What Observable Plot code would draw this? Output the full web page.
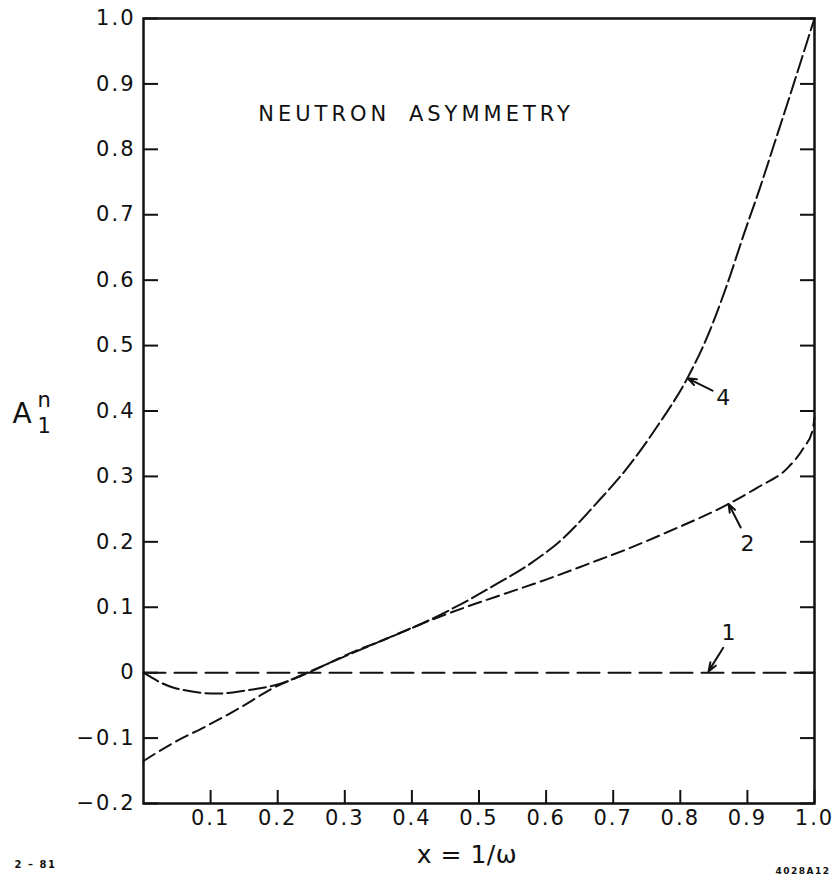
<!DOCTYPE html>
<html><head><meta charset="utf-8">
<script src="https://cdn.jsdelivr.net/npm/d3@7"></script>
<script src="https://cdn.jsdelivr.net/npm/@observablehq/plot@0.6"></script>
<style>
body{margin:0;background:#fff}
svg{display:block}
g[aria-label="y-axis tick label"] text, g[aria-label="x-axis tick label"] text {letter-spacing:2px}
text[aria-label="title"] {letter-spacing:4px; word-spacing:8px}
text[aria-label="xlabel"] {letter-spacing:0.5px}
text[aria-label="footer"] {letter-spacing:1.5px; font-weight:bold}
</style>
</head><body><div id="chart"></div>
<script>
// Curve 1: zero line
const curve1X = [0, 1];
const curve1Y = [0, 0];
// Curve 2
const curve2X = [0, 0.045, 0.095, 0.145, 0.194, 0.244, 0.318, 0.353, 0.408, 0.477, 0.551, 0.602, 0.662, 0.721, 0.781, 0.872, 0.915, 0.96, 0.984, 0.997, 1.0];
const curve2Y = [-0.135, -0.107, -0.081, -0.053, -0.023, -0.001, 0.034, 0.048, 0.072, 0.099, 0.125, 0.143, 0.166, 0.189, 0.215, 0.258, 0.283, 0.313, 0.344, 0.37, 0.39];
// Curve 4
const curve4X = [0, 0.045, 0.11, 0.16, 0.204, 0.244, 0.30, 0.353, 0.402, 0.468, 0.527, 0.577, 0.626, 0.676, 0.721, 0.766, 0.811, 0.840, 0.870, 0.894, 0.92, 0.939, 0.969, 0.99, 1.0];
const curve4Y = [0, -0.023, -0.032, -0.026, -0.017, 0, 0.025, 0.048, 0.069, 0.102, 0.136, 0.167, 0.206, 0.26, 0.313, 0.377, 0.451, 0.513, 0.594, 0.668, 0.745, 0.805, 0.900, 0.968, 1.0];

const yTicks = [-0.2, -0.1, 0, 0.1, 0.2, 0.3, 0.4, 0.5, 0.6, 0.7, 0.8, 0.9, 1.0];
const yTickLabels = ["\u22120.2", "\u22120.1", "0", "0.1", "0.2", "0.3", "0.4", "0.5", "0.6", "0.7", "0.8", "0.9", "1.0"];
const xTicks = [0.1, 0.2, 0.3, 0.4, 0.5, 0.6, 0.7, 0.8, 0.9, 1.0];
const xTickLabels = ["0.1", "0.2", "0.3", "0.4", "0.5", "0.6", "0.7", "0.8", "0.9", "1.0"];

// Curve labels and arrows (data coordinates)
const curveNames = ["1", "2", "4"];
const nameX = [0.872, 0.900, 0.864];
const nameY = [0.061, 0.197, 0.420];
const arrowTailX = [0.864, 0.890, 0.848];
const arrowTailY = [0.038, 0.222, 0.431];
const arrowTipX = [0.842, 0.872, 0.811];
const arrowTipY = [0.002, 0.258, 0.450];

const titleText = "NEUTRON ASYMMETRY";
const titleX = 0.171, titleY = 0.853;
const xLabelText = "x = 1/\u03c9";
const footLeft = "2 \u2013 81";
const footRight = "4028A12";

const toPts = (xs, ys) => xs.map((x, i) => ({x, y: ys[i]}));
const c1 = toPts(curve1X, curve1Y);
const c2 = toPts(curve2X, curve2Y);
const c4 = toPts(curve4X, curve4Y);
const idx = curveNames.map((_, i) => i);

const ink = "#111";
const plot = Plot.plot({
  width: 833, height: 881,
  marginLeft: 143, marginRight: 19, marginTop: 18, marginBottom: 78,
  style: {fontFamily: "DejaVu Sans", fontSize: "21px", background: "#fff", color: ink},
  x: {domain: [0, 1]},
  y: {domain: [-0.2, 1]},
  marks: [
    Plot.line(c1, {x: "x", y: "y", stroke: ink, strokeWidth: 2, strokeDasharray: "22,9"}),
    Plot.line(c2, {x: "x", y: "y", stroke: ink, strokeWidth: 2, strokeDasharray: "13,6", curve: "monotone-x"}),
    Plot.line(c4, {x: "x", y: "y", stroke: ink, strokeWidth: 2, strokeDasharray: "17,5", curve: "monotone-x"}),
    Plot.frame({stroke: ink, strokeWidth: 2.5}),
    Plot.axisY(yTicks, {anchor: "left", tickSize: -15, tickPadding: 23, strokeWidth: 2, fontSize: 21, label: null,
      tickFormat: d => yTickLabels[yTicks.indexOf(d)]}),
    Plot.axisY(yTicks, {anchor: "right", tickSize: -15, strokeWidth: 2, label: null, tickFormat: () => ""}),
    Plot.axisX(xTicks, {anchor: "bottom", tickSize: -13, tickPadding: 20, strokeWidth: 2, fontSize: 21, label: null,
      tickFormat: d => xTickLabels[xTicks.indexOf(d)]}),
    Plot.arrow(idx, {x1: i => arrowTailX[i], y1: i => arrowTailY[i], x2: i => arrowTipX[i], y2: i => arrowTipY[i],
      stroke: ink, strokeWidth: 2, headLength: 9, headAngle: 40}),
    Plot.text(idx, {x: i => nameX[i], y: i => nameY[i], text: i => curveNames[i], fontSize: 22, fill: ink}),
    Plot.text([titleText], {x: titleX, y: titleY, text: d => d, textAnchor: "start", fontSize: 21, fill: ink, ariaLabel: () => "title"}),
    Plot.text([xLabelText], {frameAnchor: "bottom", dx: -12, dy: 59, text: d => d, fontSize: 25, fill: ink, ariaLabel: () => "xlabel"}),
    Plot.text(["A"], {frameAnchor: "left", dx: -131, dy: 3, text: d => d, textAnchor: "start", fontSize: 28, fill: ink}),
    Plot.text(["n"], {frameAnchor: "left", dx: -106, dy: -11, text: d => d, textAnchor: "start", fontSize: 21, fill: ink}),
    Plot.text(["1"], {frameAnchor: "left", dx: -106, dy: 15, text: d => d, textAnchor: "start", fontSize: 21, fill: ink}),
    Plot.text([footLeft], {frameAnchor: "bottom-left", dx: -129, dy: 64, text: d => d, textAnchor: "start", fontSize: 10, fill: ink, ariaLabel: () => "footer"}),
    Plot.text([footRight], {frameAnchor: "bottom-right", dx: 16, dy: 70, text: d => d, textAnchor: "end", fontSize: 9, fill: ink, ariaLabel: () => "footer"})
  ]
});
document.getElementById("chart").appendChild(plot);
</script>
</body></html>
